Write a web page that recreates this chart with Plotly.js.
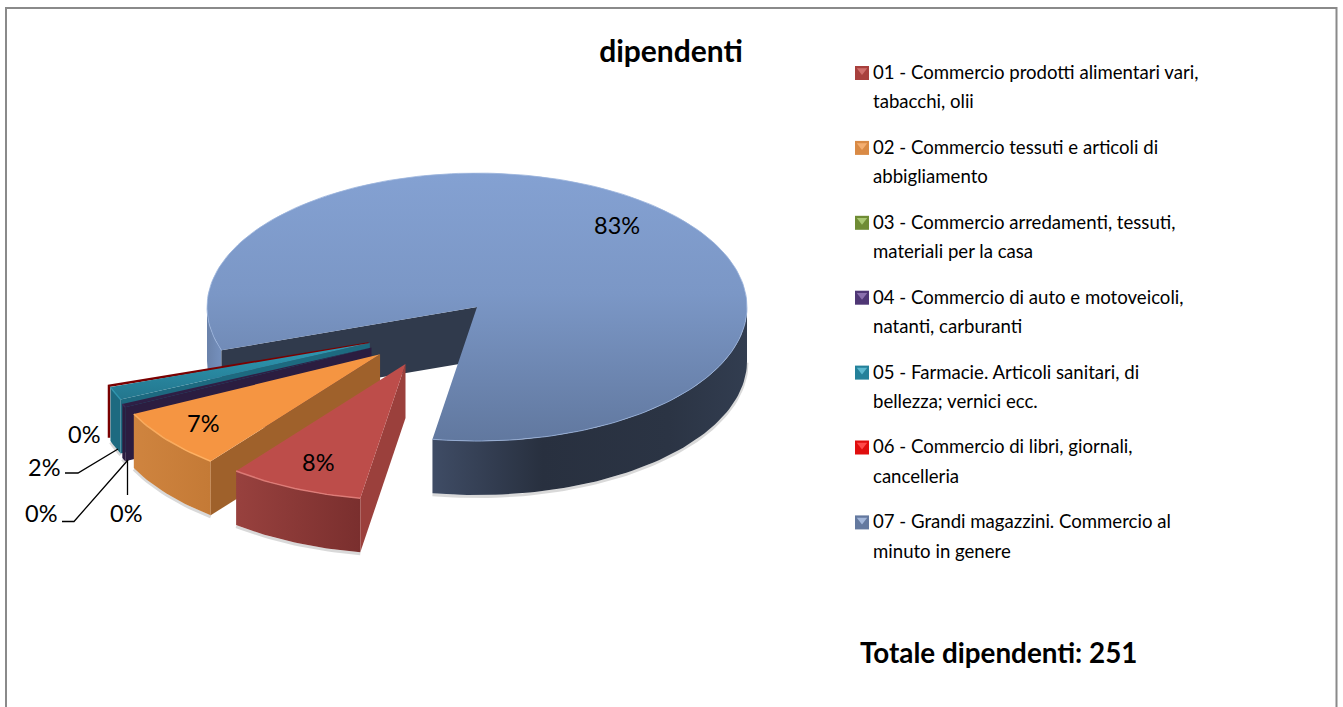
<!DOCTYPE html>
<html><head><meta charset="utf-8">
<script src="https://cdn.plot.ly/plotly-3.0.1.min.js"></script>
<style>html,body{margin:0;padding:0;background:#fff}#chart{width:1343px;height:707px}text{font-variant-ligatures:none}</style>
</head><body><div id="chart"></div>
<script>
// ---- data ----
const categories = [
  "01 - Commercio prodotti alimentari vari,|tabacchi, olii",
  "02 - Commercio tessuti e articoli di|abbigliamento",
  "03 - Commercio arredamenti, tessuti,|materiali per la casa",
  "04 - Commercio di auto e motoveicoli,|natanti, carburanti",
  "05 - Farmacie. Articoli sanitari, di|bellezza; vernici ecc.",
  "06 - Commercio di libri, giornali,|cancelleria",
  "07 - Grandi magazzini. Commercio al|minuto in genere"
];
const dipendenti = [20, 18, 0, 1, 4, 0, 208];
const titleText = "dipendenti";
const totalLabel = "Totale dipendenti: ";

// ---- styles ----
const FONT = "Lato, Carlito, Calibri, sans-serif";
const topA = ["#bd4d4a","#f59542","#9bbb59","#2e1f45","#2f9ab4","#c00000","#84a1d2"];
const topB = ["#bd4d4a","#f59542","#9bbb59","#2e1f45","#23768d","#7a0000","#61789f"];
const wallA = ["#98413e","#cf843f","#7d9a45","#2b1d40","#1d6a80","#6a0000","#3f4c65"];
const wallB = ["#7a2f2e","#c47a36","#6a853a","#2b1d40","#1d6a80","#6a0000","#27303f"];
const faceColors = ["#9b403c","#9f612b","#7d9a45","#2b1d40","#1d6a80","#6a0000","#303a4c"];
const rimColors = ["#e07e7a","#ffb163","#b6d56f","#3a2a55","#2f94ad","#7a0000","#9ab3dc"];
const swatchDark = ["#a8403d","#d98a45","#6f8c35","#4f3775","#24819a","#e00e0e","#64799f"];
const swatchLight = ["#d06f6c","#f4ae70","#a9c873","#8a70ad","#5cb8cf","#ff4a4a","#a3b7da"];

// ---- projection constants ----
const CX = 433, CY = 333, DEPTH = 54, EXPLODE = 68, START = 9.5;
const MAIN_R = {x:270, y:134}, PART_R = {x:274, y:136};
const total = dipendenti.reduce((a,b)=>a+b,0);
const rad = d => d*Math.PI/180;

let ang = START;
const slices = dipendenti.map((v,i)=>{
  const sweep = v/total*360, a0 = ang, a1 = ang+sweep; ang = a1;
  const mid = (a0+a1)/2;
  const lift = i===4 ? 2.5 : 0;
  const o = {x: CX - EXPLODE*Math.sin(rad(mid)), y: CY + EXPLODE*0.5*Math.cos(rad(mid)) - lift, r: i===6 ? MAIN_R : PART_R};
  return {i,v,a0,a1,mid,o};
});
const px = (o,a) => o.x - o.r.x*Math.sin(rad(a));
const py = (o,a) => o.y + o.r.y*Math.cos(rad(a));
function arc(o,a0,a1,dy){
  const n = Math.max(2,Math.ceil((a1-a0)/1.5)), xs=[], ys=[];
  for(let k=0;k<=n;k++){const a=a0+(a1-a0)*k/n; xs.push(px(o,a)); ys.push(py(o,a)+dy);}
  return {xs,ys};
}
const traces = [];
function poly(xs,ys,opts){
  const t = {type:'scatter',mode:'lines',x:xs.concat(xs[0]),y:ys.concat(ys[0]),fill:'toself',
    line:{width:0,color:'rgba(0,0,0,0)'},hoverinfo:'skip',showlegend:false};
  if(opts.gradient) t.fillgradient = opts.gradient; else t.fillcolor = opts.color;
  traces.push(t);
}
function line(xs,ys,color,width,opacity){
  traces.push({type:'scatter',mode:'lines',x:xs,y:ys,line:{color,width},opacity:opacity==null?1:opacity,hoverinfo:'skip',showlegend:false});
}
function wall(s,a0,a1){
  const t = arc(s.o,a0,a1,0), b = arc(s.o,a0,a1,DEPTH);
  return {xs:t.xs.concat(b.xs.slice().reverse()), ys:t.ys.concat(b.ys.slice().reverse())};
}
const gradH = c => ({type:'horizontal',colorscale:c});
const gradV = c => ({type:'vertical',colorscale:c});

const main = slices[6];
{
  const b = arc(main.o,270,360+START,DEPTH+1.5);
  line(b.xs,b.ys,'#b9b9b9',3,0.55);
  const w = wall(main,270,main.a1);
  poly(w.xs,w.ys,{gradient:gradH([[0,'#3f4c65'],[0.35,'#28303f'],[0.75,'#2b3444'],[1,'#323d50']])});
  const l = wall(main,main.a0,90);
  poly(l.xs,l.ys,{gradient:gradH([[0,'#6a82aa'],[1,'#7590bd']])});
  const p = {x:px(main.o,main.a0),y:py(main.o,main.a0)};
  poly([main.o.x,p.x,p.x,main.o.x],[main.o.y,p.y,p.y+DEPTH,main.o.y+DEPTH],{color:faceColors[6]});
  const t = arc(main.o,main.a0,main.a1,0);
  poly([main.o.x].concat(t.xs),[main.o.y].concat(t.ys),{gradient:gradV([[0,topB[6]],[0.55,'#7b97c6'],[1,topA[6]]])});
  line(t.xs,t.ys,rimColors[6],1,0.8);
}
// the other slices, back to front
[5,4,3,2,1,0].forEach(i=>{
  const s = slices[i], o = s.o;
  const A = {x:px(o,s.a0),y:py(o,s.a0)}, B = {x:px(o,s.a1),y:py(o,s.a1)};
  if(s.v===0){
    if(i===5){ line([o.x,B.x-0.3,B.x-0.3],[o.y-0.5,B.y-2,B.y+DEPTH-4],topB[i],2.5); }
    return;
  }
  const sb = arc(o,s.a0,s.a1,DEPTH+1.5);
  line(sb.xs,sb.ys,'#b9b9b9',3,0.55);
  const w = wall(s,s.a0,s.a1);
  poly(w.xs,w.ys,{gradient:gradH([[0,wallA[i]],[1,wallB[i]]])});
  poly([o.x,A.x,A.x,o.x],[o.y,A.y,A.y+DEPTH,o.y+DEPTH],{color:faceColors[i]});
  const t = arc(o,s.a0,s.a1,0);
  poly([o.x].concat(t.xs),[o.y].concat(t.ys),{gradient:gradV([[0,topB[i]],[1,topA[i]]])});
  line(t.xs,t.ys,rimColors[i],1.5,0.9);
});
// legend entries (text in the library's legend; the bevelled swatches are placed beside it)
const LEG_PX = 18.6;
categories.forEach((label,i)=>{
  const parts = label.split('|').map(p=>`<span style="font-size:${LEG_PX}px">${p}</span>`);
  traces.push({type:'scatter',mode:'markers',x:[null],y:[null],name:parts.join('<br>'),legendgroup:'g'+i,
    marker:{symbol:'square',size:1,opacity:0,color:'rgba(0,0,0,0)',line:{width:0}},hoverinfo:'skip'});
});
const swatchX = categories.map(()=>862);
const swatchY = categories.map((_,i)=>73+i*74.9);
traces.push({type:'scatter',mode:'markers',x:swatchX,y:swatchY,showlegend:false,hoverinfo:'skip',
  marker:{symbol:'square',size:14,color:swatchDark,line:{width:0}}});
traces.push({type:'scatter',mode:'markers',x:swatchX,y:swatchY.map(v=>v-2.5),showlegend:false,hoverinfo:'skip',
  marker:{symbol:'triangle-down',size:9,color:swatchLight,line:{width:0}}});

const pct = i => Math.round(dipendenti[i]/total*100)+'%';
const labelAt = [[318,462],[203,423],[126,513],[41,513],[44,467],[84,434],[617,225]];
const annotations = labelAt.map((p,i)=>({xref:'x',yref:'y',x:p[0],y:p[1],text:pct(i),showarrow:false,
  font:{family:FONT,size:23.5,color:'#000'},xanchor:'center',yanchor:'middle'}));
annotations.push({xref:'x',yref:'y',x:858,y:652,xanchor:'left',yanchor:'middle',showarrow:false,
  text:'<b>'+totalLabel+total+'</b>',font:{family:FONT,size:27.8,color:'#000'}});
const seg = (pts)=>({type:'path',xref:'x',yref:'y',path:'M'+pts.map(p=>p.join(',')).join('L'),line:{color:'#000',width:1.3}});
const layout = {
  width:1343,height:707,margin:{l:0,r:0,t:0,b:0},paper_bgcolor:'#fff',plot_bgcolor:'#fff',
  title:{text:'<b>'+titleText+'</b>',font:{family:FONT,size:30,color:'#000'},x:671/1343,xanchor:'center',y:1-51/707,yanchor:'middle'},
  xaxis:{range:[0,1343],visible:false,fixedrange:true},
  yaxis:{range:[707,0],visible:false,fixedrange:true},
  showlegend:true,
  legend:{x:833/1343,y:1-49/707,xanchor:'left',yanchor:'top',font:{family:FONT,size:22.5,color:'#000'},
    tracegroupgap:13.4,itemsizing:'trace',itemwidth:30,bgcolor:'rgba(0,0,0,0)',borderwidth:0},
  annotations,
  shapes:[
    {type:'rect',xref:'x',yref:'y',x0:6,y0:8,x1:1336.5,y1:730,line:{color:'#8a8a8a',width:2},fillcolor:'rgba(0,0,0,0)',layer:'below'},
    seg([[65,473],[78,473],[118,449]]),
    seg([[62,521.5],[74,521.5],[128,460]]),
    seg([[127.5,495],[127.5,460]])
  ]
};
Plotly.newPlot('chart',traces,layout,{displayModeBar:false,staticPlot:true});
</script></body></html>
